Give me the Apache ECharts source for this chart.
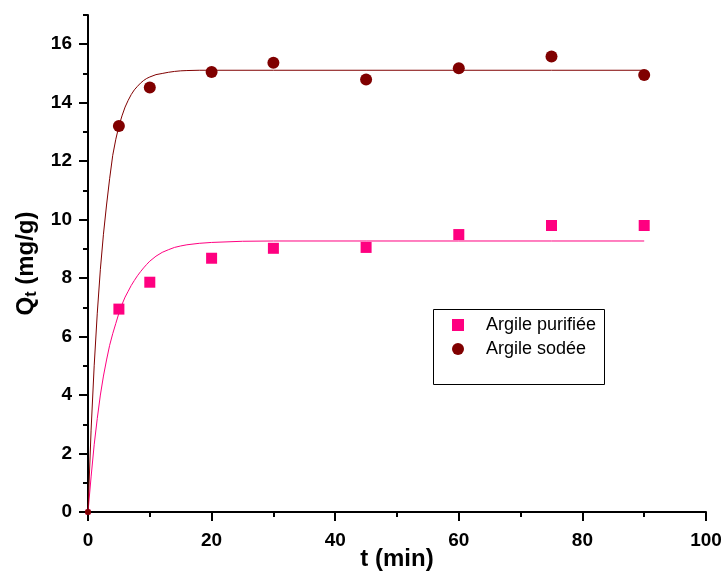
<!DOCTYPE html>
<html>
<head>
<meta charset="utf-8">
<script src="https://cdn.jsdelivr.net/npm/echarts@6/dist/echarts.min.js"></script>
<style>html,body{margin:0;padding:0;background:#fff}#c{width:724px;height:574px}</style>
</head>
<body>
<div id="c"></div>
<script>
// ---- data ----
var timeMin = [0, 5, 10, 20, 30, 45, 60, 75, 90];
var qPurifiee = [0, 6.94, 7.86, 8.68, 9.02, 9.05, 9.49, 9.80, 9.80];
var qSodee = [0, 13.20, 14.52, 15.05, 15.37, 14.79, 15.18, 15.58, 14.95];

var fitSodeeT = [0, 0.5, 1, 1.5, 2, 2.5, 3, 3.5, 4, 4.5, 5, 5.5, 6, 6.5, 7, 7.5, 8, 8.5, 9, 9.5, 10, 11, 12, 13, 14, 15, 16, 18, 20, 30, 45, 60, 75, 90];
var fitSodeeQ = [0, 2.8, 5.0, 6.8, 8.3, 9.5, 10.5, 11.4, 12.2, 12.75, 13.2, 13.55, 13.85, 14.08, 14.28, 14.44, 14.56, 14.67, 14.76, 14.83, 14.88, 14.96, 15.0, 15.04, 15.07, 15.09, 15.1, 15.11, 15.11, 15.11, 15.11, 15.11, 15.11, 15.11];
var fitPurT = [0, 0.5, 1, 1.5, 2, 2.5, 3, 3.5, 4, 4.5, 5, 5.5, 6, 6.5, 7, 7.5, 8, 8.5, 9, 9.5, 10, 11, 12, 13, 14, 15, 16, 18, 20, 25, 30, 45, 60, 75, 90];
var fitPurQ = [0, 1.2, 2.3, 3.2, 4.0, 4.65, 5.2, 5.7, 6.1, 6.45, 6.8, 7.1, 7.35, 7.55, 7.75, 7.92, 8.08, 8.22, 8.35, 8.47, 8.58, 8.75, 8.88, 8.97, 9.05, 9.1, 9.14, 9.19, 9.22, 9.26, 9.27, 9.27, 9.27, 9.27, 9.27];

var yMajorTicks = [0, 2, 4, 6, 8, 10, 12, 14, 16];
var yMinorTicks = [1, 3, 5, 7, 9, 11, 13, 15, 17];
var seriesNames = ['Argile purifiée', 'Argile sodée'];
var xTitle = 't (min)';

// ---- build ----
function zip(a, b) { return a.map(function (v, i) { return [v, b[i]]; }); }
var FONT = "'Liberation Sans', Arial, sans-serif";
var PINK = '#FF0080', DARK = '#800000';

var chart = echarts.init(document.getElementById('c'), null, { renderer: 'canvas' });
var axisLabelStyle = { fontFamily: FONT, fontWeight: 'bold', fontSize: 19, color: '#000' };

chart.setOption({
  animation: false,
  backgroundColor: '#fff',
  grid: { left: 88, right: 18, top: 15, bottom: 62, containLabel: false, outerBoundsMode: 'none' },
  xAxis: {
    type: 'value', min: 0, max: 100, interval: 20,
    name: xTitle, nameLocation: 'middle', nameGap: 35, nameMoveOverlap: false,
    nameTextStyle: { fontFamily: FONT, fontWeight: 'bold', fontSize: 24, color: '#000' },
    axisLine: { show: true, onZero: false, lineStyle: { color: '#000', width: 2 } },
    axisTick: { show: true, inside: false, length: 9, lineStyle: { color: '#000', width: 2 } },
    minorTick: { show: true, splitNumber: 2, length: 5, lineStyle: { color: '#000', width: 2 } },
    axisLabel: Object.assign({ margin: 19 }, axisLabelStyle),
    splitLine: { show: false }
  },
  yAxis: [{
    type: 'value', min: 0, max: 17,
    name: '{a|Q}{b|t}{a| (mg/g)}', nameLocation: 'middle', nameGap: 48, nameRotate: 90, nameMoveOverlap: false,
    nameTextStyle: {
      rich: {
        a: { fontFamily: FONT, fontWeight: 'bold', fontSize: 24, color: '#000' },
        b: { fontFamily: FONT, fontWeight: 'bold', fontSize: 16, color: '#000', padding: [12, 0, 0, 0] }
      }
    },
    axisLine: { show: true, onZero: false, lineStyle: { color: '#000', width: 2 } },
    axisTick: { show: true, customValues: yMajorTicks, length: 9, lineStyle: { color: '#000', width: 2 } },
    axisLabel: Object.assign({ margin: 16, customValues: yMajorTicks }, axisLabelStyle),
    splitLine: { show: false }
  }, {
    type: 'value', min: 0, max: 17, position: 'left',
    axisLine: { show: false },
    axisTick: { show: true, customValues: yMinorTicks, length: 5, lineStyle: { color: '#000', width: 2 } },
    axisLabel: { show: false },
    splitLine: { show: false }
  }],
  legend: {
    show: true, orient: 'vertical', left: 452, top: 316, padding: 0,
    itemWidth: 12, itemHeight: 12, itemGap: 6,
    data: [
      { name: seriesNames[0], icon: 'rect' },
      { name: seriesNames[1], icon: 'circle' }
    ],
    textStyle: { fontFamily: FONT, fontSize: 18, color: '#000', lineHeight: 18, padding: [0, 0, 0, 17] }
  },
  graphic: [{
    type: 'rect', z: 0,
    shape: { x: 433.5, y: 309.5, width: 171, height: 75 },
    style: { fill: 'none', stroke: '#000', lineWidth: 1 }
  }],
  series: [
    {
      name: seriesNames[0] + ' fit', type: 'line', data: zip(fitPurT, fitPurQ),
      showSymbol: false, symbol: 'none', smooth: false,
      lineStyle: { color: PINK, width: 1 }, z: 3, silent: true
    },
    {
      name: seriesNames[1] + ' fit', type: 'line', data: zip(fitSodeeT, fitSodeeQ),
      showSymbol: false, symbol: 'none', smooth: false,
      lineStyle: { color: DARK, width: 1 }, z: 3, silent: true
    },
    {
      name: seriesNames[0], type: 'scatter', symbol: 'rect', symbolSize: 11,
      itemStyle: { color: PINK, opacity: 1 }, z: 4,
      data: zip(timeMin, qPurifiee).map(function (p) { return p[0] === 0 ? { value: p, symbolSize: 5 } : p; })
    },
    {
      name: seriesNames[1], type: 'scatter', symbol: 'circle', symbolSize: 12,
      itemStyle: { color: DARK, opacity: 1 }, z: 5,
      data: zip(timeMin, qSodee).map(function (p) { return p[0] === 0 ? { value: p, symbolSize: 6 } : p; })
    }
  ]
});
</script>
</body>
</html>
